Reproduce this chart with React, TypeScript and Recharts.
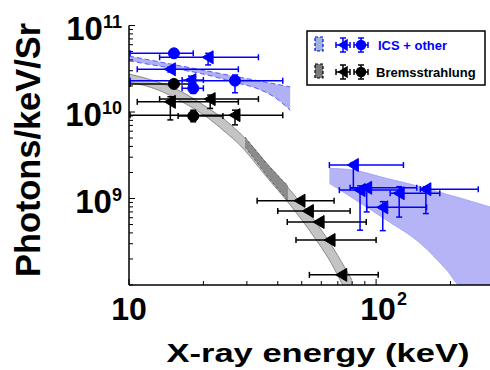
import { ComposedChart, Area, Scatter, ErrorBar, XAxis, YAxis } from 'recharts'

const FONT = '"Liberation Sans", Arial, Helvetica, sans-serif'

// axis ranges and ticks
const X_MIN = 10
const X_MAX = 289
const Y_MIN = 1e8
const Y_MAX = 1e11
const xTicks = [10, 20, 30, 40, 50, 60, 70, 80, 90, 100, 200]
const yTicks = [
  1e8, 2e8, 3e8, 4e8, 5e8, 6e8, 7e8, 8e8, 9e8,
  1e9, 2e9, 3e9, 4e9, 5e9, 6e9, 7e9, 8e9, 9e9,
  1e10, 2e10, 3e10, 4e10, 5e10, 6e10, 7e10, 8e10, 9e10,
  1e11,
]
const yMajor = [1e9, 1e10, 1e11]
const yMajorExp = ['9', '10', '11']

// ICS + other model band, low energy part
const icsLowE = [10, 14, 19.4, 26.9, 33.3, 39, 44.9]
const icsLowLo = [3.9e10, 3.3e10, 2.8e10, 2.2e10, 1.85e10, 1.47e10, 1.05e10]
const icsLowHi = [4.44e10, 3.69e10, 3.09e10, 2.58e10, 2.3e10, 2.11e10, 1.95e10]

// ICS + other model band, high energy part
const icsHighE = [64.7, 80.9, 110, 151, 193, 222, 289]
const icsHighLo = [1.5e9, 1.0e9, 5.64e8, 3.03e8, 1.49e8, 9.5e7, 9e7]
const icsHighHi = [2.23e9, 2.13e9, 1.71e9, 1.37e9, 1.12e9, 1.0e9, 8.0e8]

// Bremsstrahlung model band
const bremE = [10, 13.1, 16.4, 20.9, 24.5, 28.1, 35.5, 44.9, 56.1, 65.1, 74.9, 79.9]
const bremLo = [2.22e10, 1.8e10, 1.31e10, 8.52e9, 5.87e9, 4.15e9, 1.87e9, 8.41e8, 3.59e8, 1.89e8, 9e7, 6.9e7]
const bremHi = [2.75e10, 2.22e10, 1.7e10, 1.11e10, 8.08e9, 5.72e9, 2.71e9, 1.25e9, 5.64e8, 3.06e8, 1.57e8, 1.14e8]

// darker inner Bremsstrahlung band
const bremCoreE = [29.5, 36, 44]
const bremCoreLo = [3.94e9, 1.87e9, 9.36e8]
const bremCoreHi = [5.14e9, 2.51e9, 1.4e9]

// ICS + other, triangles
const icsTriE = [20.9, 14.7, 17.8, 80.9, 86.1, 91.6, 106.4, 124, 159]
const icsTriF = [4.29e10, 3.12e10, 2.34e10, 2.44e9, 1.25e9, 1.33e9, 7.9e8, 1.15e9, 1.28e9]
const icsTriELo = [13.3, 10.8, 16.4, 64.7, 71, 78.5, 91.6, 114, 151]
const icsTriEHi = [33.4, 27.7, 20.0, 129, 125, 146, 160, 181, 259]
const icsTriFLo = [3.5e10, 2.9e10, 2.1e10, 1.32e9, 4.3e8, 7.0e8, 4.25e8, 6.1e8, 6.7e8]
const icsTriFHi = [4.77e10, 3.3e10, 2.6e10, 2.6e9, 1.4e9, 1.45e9, 9.2e8, 1.37e9, 1.37e9]

// ICS + other, circles
const icsCirE = [15.2, 26.85, 18.2]
const icsCirF = [4.77e10, 2.3e10, 1.88e10]
const icsCirELo = [10.1, 10.1, 16.4]
const icsCirEHi = [18.2, 41.9, 20.0]
const icsCirFLo = [4.5e10, 1.67e10, 1.64e10]
const icsCirFHi = [5.0e10, 2.68e10, 2.56e10]

// Bremsstrahlung, triangles
const bremTriE = [14.7, 21.3, 26.85, 49.2, 53.2, 58.8, 65.1, 72.6]
const bremTriF = [1.31e10, 1.41e10, 9.2e9, 9.44e8, 7.16e8, 5.35e8, 3.31e8, 1.31e8]
const bremTriELo = [10.8, 13.3, 10.1, 33.0, 40.0, 43.7, 47.4, 53.7]
const bremTriEHi = [27.7, 33.4, 41.9, 67.6, 78.5, 91.2, 100, 102]
const bremTriFLo = [8.1e9, 1.1e10, 7.1e9, null, null, null, null, null]
const bremTriFHi = [1.5e10, 1.57e10, 1.05e10, null, null, null, null, null]

// Bremsstrahlung, circles
const bremCirE = [15.2, 18.2]
const bremCirF = [2.11e10, 8.99e9]
const bremCirELo = [10.1, 15.8]
const bremCirEHi = [18.2, 24]
const bremCirFLo = [2.0e10, 7.7e9]
const bremCirFHi = [2.2e10, 1.05e10]

const band = (e: number[], lo: number[], hi: number[]) =>
  e.map((v, i) => ({ e: v, range: [lo[i], hi[i]] }))

const points = (
  e: number[], f: number[], eLo: number[], eHi: number[],
  fLo: (number | null)[], fHi: (number | null)[],
) =>
  e.map((v, i) => ({
    e: v,
    f: f[i],
    ex: [v - eLo[i], eHi[i] - v],
    ey: fLo[i] == null ? null : [f[i] - (fLo[i] as number), (fHi[i] as number) - f[i]],
  }))

const icsLowBand = band(icsLowE, icsLowLo, icsLowHi)
const icsHighBand = band(icsHighE, icsHighLo, icsHighHi)
const bremBand = band(bremE, bremLo, bremHi)
const bremCoreBand = band(bremCoreE, bremCoreLo, bremCoreHi)
const icsTri = points(icsTriE, icsTriF, icsTriELo, icsTriEHi, icsTriFLo, icsTriFHi)
const icsCir = points(icsCirE, icsCirF, icsCirELo, icsCirEHi, icsCirFLo, icsCirFHi)
const bremTri = points(bremTriE, bremTriF, bremTriELo, bremTriEHi, bremTriFLo, bremTriFHi)
const bremCir = points(bremCirE, bremCirF, bremCirELo, bremCirEHi, bremCirFLo, bremCirFHi)

const BLUE = '#0000ff'
const BLACK = '#000000'

const triangle = (color: string) => (props: any) => {
  const { cx, cy } = props
  if (cx == null || cy == null) return <g />
  return (
    <polygon
      points={`${cx - 6},${cy} ${cx + 5},${cy - 6.5} ${cx + 5},${cy + 6.5}`}
      fill={color}
      stroke={color}
      strokeWidth={1}
    />
  )
}

const circle = (color: string) => (props: any) => {
  const { cx, cy } = props
  if (cx == null || cy == null) return <g />
  return <circle cx={cx} cy={cy} r={5.5} fill={color} stroke={color} />
}

const XTick = (props: any) => {
  const { x, y, payload } = props
  const v = payload.value
  const major = v === 10 || v === 100
  return (
    <g>
      <line x1={x} y1={y} x2={x} y2={y - (major ? 6 : 4)} stroke="#000" strokeWidth={1} />
      {v === 10 && (
        <text x={x} y={y + 35} textAnchor="middle" fontFamily={FONT} fontWeight="bold" fontSize={32} fill="#000">
          10
        </text>
      )}
      {v === 100 && (
        <text x={x + 2} y={y + 35} textAnchor="middle" fontFamily={FONT} fontWeight="bold" fontSize={32} fill="#000">
          10
        </text>
      )}
      {v === 100 && (
        <text x={x + 21} y={y + 20} fontFamily={FONT} fontWeight="bold" fontSize={18} fill="#000">
          2
        </text>
      )}
    </g>
  )
}

const TopTick = (props: any) => {
  const { x, y, payload } = props
  const major = payload.value === 10 || payload.value === 100
  return <line x1={x} y1={y} x2={x} y2={y + (major ? 6 : 4)} stroke="#000" strokeWidth={1} />
}

const YTick = (props: any) => {
  const { x, y, payload } = props
  const idx = yMajor.indexOf(payload.value)
  return (
    <g>
      <line x1={x} y1={y} x2={x + (idx >= 0 ? 6 : 4)} y2={y} stroke="#000" strokeWidth={1} />
      {idx >= 0 && (
        <text x={x - 7} y={y + 14} textAnchor="end" fontFamily={FONT} fontWeight="bold" fill="#000">
          <tspan fontSize={33}>10</tspan>
          <tspan fontSize={18} dy={-12}>{yMajorExp[idx]}</tspan>
        </text>
      )}
    </g>
  )
}

const LegendMarker = ({ x, y, color, kind }: { x: number; y: number; color: string; kind: 'tri' | 'cir' }) => (
  <g stroke={color} strokeWidth={1.5}>
    <line x1={x - 7} y1={y} x2={x + 7} y2={y} />
    <line x1={x} y1={y - 7} x2={x} y2={y + 7} />
    <line x1={x - 7} y1={y - 3} x2={x - 7} y2={y + 3} />
    <line x1={x + 7} y1={y - 3} x2={x + 7} y2={y + 3} />
    <line x1={x - 3} y1={y - 7} x2={x + 3} y2={y - 7} />
    <line x1={x - 3} y1={y + 7} x2={x + 3} y2={y + 7} />
    {kind === 'tri' ? (
      <polygon points={`${x - 4},${y} ${x + 4},${y - 5} ${x + 4},${y + 5}`} fill={color} />
    ) : (
      <circle cx={x} cy={y} r={4.5} fill={color} />
    )}
  </g>
)

const PlotLegend = () => (
  <svg
    width={490}
    height={370}
    style={{ position: 'absolute', left: 0, top: 0, pointerEvents: 'none' }}
  >
    <rect x={307} y={31} width={178} height={54} fill="#fff" stroke="#000" strokeWidth={1.5} />
    <rect x={315} y={37} width={8} height={14} fill="#9db4d8" stroke={BLUE} strokeWidth={1.2} strokeDasharray="3 2" />
    <LegendMarker x={343} y={45} color={BLUE} kind="tri" />
    <LegendMarker x={361} y={45} color={BLUE} kind="cir" />
    <text x={378} y={50} fontFamily={FONT} fontWeight="bold" fontSize={13} fill={BLUE}>
      ICS + other
    </text>
    <rect x={315} y={64} width={8} height={14} fill="#7a7a7a" stroke="#000" strokeWidth={1.2} strokeDasharray="3 2" />
    <LegendMarker x={343} y={72} color={BLACK} kind="tri" />
    <LegendMarker x={361} y={72} color={BLACK} kind="cir" />
    <text x={376} y={77} fontFamily={FONT} fontWeight="bold" fontSize={13} fill={BLACK}>
      Bremsstrahlung
    </text>
  </svg>
)

const XTitle = () => (
  <text
    x={318}
    y={362}
    textAnchor="middle"
    fontFamily={FONT}
    fontWeight="bold"
    fontSize={25}
    textLength={303}
    lengthAdjust="spacingAndGlyphs"
    fill="#000"
  >
    X-ray energy (keV)
  </text>
)

const YTitle = () => (
  <text
    x={0}
    y={0}
    transform="translate(40,150) rotate(-90)"
    textAnchor="middle"
    fontFamily={FONT}
    fontWeight="bold"
    fontSize={35}
    textLength={254}
    lengthAdjust="spacingAndGlyphs"
    fill="#000"
  >
    Photons/keV/Sr
  </text>
)

export default function App() {
  return (
    <div style={{ position: 'absolute', left: 0, top: 0, width: 490, height: 370, background: '#fff' }}>
      <ComposedChart
        width={490}
        height={370}
        margin={{ top: 25.5, right: 0, bottom: 25, left: 69 }}
      >
        <XAxis
          dataKey="e"
          type="number"
          scale="log"
          domain={[X_MIN, X_MAX]}
          allowDataOverflow
          ticks={xTicks}
          interval={0}
          tickSize={0}
          tickMargin={0}
          tick={<XTick />}
          height={60}
          axisLine={{ stroke: '#000', strokeWidth: 1.5 }}
          label={<XTitle />}
        />
        <XAxis
          xAxisId="top"
          orientation="top"
          dataKey="e"
          type="number"
          scale="log"
          domain={[X_MIN, X_MAX]}
          allowDataOverflow
          ticks={xTicks}
          interval={0}
          tickSize={0}
          tickMargin={0}
          tick={<TopTick />}
          height={0}
          axisLine={{ stroke: '#000', strokeWidth: 1.5 }}
        />
        <YAxis
          dataKey="f"
          type="number"
          scale="log"
          domain={[Y_MIN, Y_MAX]}
          allowDataOverflow
          ticks={yTicks}
          interval={0}
          tickSize={0}
          tickMargin={0}
          tick={<YTick />}
          width={60}
          axisLine={{ stroke: '#000', strokeWidth: 1.5 }}
          label={<YTitle />}
        />
        <Area
          data={icsLowBand}
          dataKey="range"
          type="monotone"
          fill="#b0b0f5"
          fillOpacity={1}
          stroke="#5b5bff"
          strokeWidth={1}
          strokeDasharray="5 3"
          isAnimationActive={false}
        />
        <Area
          data={icsHighBand}
          dataKey="range"
          type="monotone"
          fill="#b4b4f6"
          fillOpacity={1}
          stroke="#9d9df2"
          strokeWidth={0.8}
          isAnimationActive={false}
        />
        <Area
          data={bremBand}
          dataKey="range"
          type="monotone"
          fill="#c4c4c4"
          fillOpacity={1}
          stroke="#777"
          strokeWidth={0.8}
          isAnimationActive={false}
        />
        <Area
          data={bremCoreBand}
          dataKey="range"
          type="linear"
          fill="#8c8c8c"
          fillOpacity={1}
          stroke="#555"
          strokeWidth={0.8}
          strokeDasharray="3 2"
          isAnimationActive={false}
        />
        <Scatter data={bremTri} shape={triangle(BLACK)} isAnimationActive={false}>
          <ErrorBar dataKey="ex" direction="x" width={3} stroke={BLACK} strokeWidth={1.5} />
          <ErrorBar dataKey="ey" direction="y" width={3} stroke={BLACK} strokeWidth={1.5} />
        </Scatter>
        <Scatter data={bremCir} shape={circle(BLACK)} isAnimationActive={false}>
          <ErrorBar dataKey="ex" direction="x" width={3} stroke={BLACK} strokeWidth={1.5} />
          <ErrorBar dataKey="ey" direction="y" width={3} stroke={BLACK} strokeWidth={1.5} />
        </Scatter>
        <Scatter data={icsTri} shape={triangle(BLUE)} isAnimationActive={false}>
          <ErrorBar dataKey="ex" direction="x" width={3} stroke={BLUE} strokeWidth={1.5} />
          <ErrorBar dataKey="ey" direction="y" width={3} stroke={BLUE} strokeWidth={1.5} />
        </Scatter>
        <Scatter data={icsCir} shape={circle(BLUE)} isAnimationActive={false}>
          <ErrorBar dataKey="ex" direction="x" width={3} stroke={BLUE} strokeWidth={1.5} />
          <ErrorBar dataKey="ey" direction="y" width={3} stroke={BLUE} strokeWidth={1.5} />
        </Scatter>
      </ComposedChart>
      <PlotLegend />
    </div>
  )
}
